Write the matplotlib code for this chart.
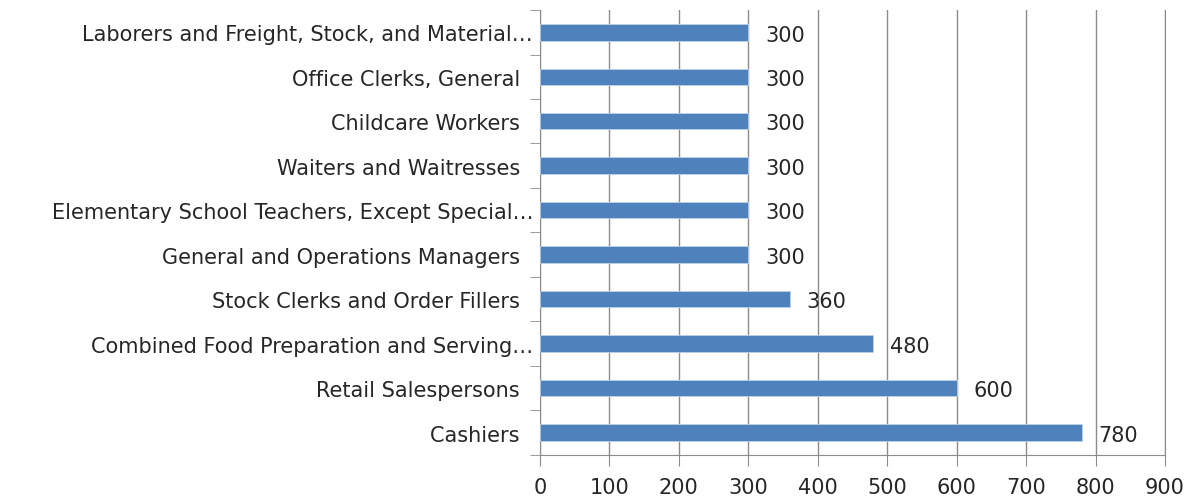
import matplotlib

matplotlib.use("Agg")
import matplotlib.pyplot as plt

# Top to bottom as shown in the chart (Excel keeps a trailing space on
# the labels it did not truncate)
occupations = [
    "Laborers and Freight, Stock, and Material\u2026",
    "Office Clerks, General  ",
    "Childcare Workers  ",
    "Waiters and Waitresses  ",
    "Elementary School Teachers, Except Special\u2026",
    "General and Operations Managers  ",
    "Stock Clerks and Order Fillers  ",
    "Combined Food Preparation and Serving\u2026",
    "Retail Salespersons  ",
    "Cashiers  ",
]
counts = [300, 300, 300, 300, 300, 300, 360, 480, 600, 780]
x_ticks = [0, 100, 200, 300, 400, 500, 600, 700, 800, 900]

BAR = "#4f81bd"
GRID = "#8c8c8c"
TEXT = "#262626"
FS = 15

plt.rcParams["font.family"] = ["DejaVu Sans"]

fig = plt.figure(figsize=(11.93, 5.02), dpi=100)
ax = fig.add_axes([0.4526, 0.092, 0.5239, 0.886])

y_pos = list(range(len(occupations)))
ax.barh(y_pos, counts, height=0.37, color=BAR, edgecolor="#bcd0e8",
        linewidth=0.6, zorder=3)
ax.set_ylim(len(occupations) - 0.5, -0.5)
ax.set_xlim(0, 900)

ax.set_xticks(x_ticks)
ax.set_xticklabels([str(t) for t in x_ticks], fontsize=FS, color=TEXT)
ax.set_yticks(y_pos)
ax.set_yticklabels(occupations, fontsize=FS, color=TEXT)
ax.tick_params(axis="y", length=0, pad=5)
ax.tick_params(axis="x", length=8, color=GRID, pad=8)
# category boundary ticks on the value axis
ax.set_yticks([i - 0.5 for i in range(len(occupations) + 1)], minor=True)
ax.tick_params(axis="y", which="minor", length=7, color=GRID)

ax.grid(axis="x", color=GRID, linewidth=1.0, zorder=0)
ax.set_axisbelow(True)
ax.spines["top"].set_visible(False)
ax.spines["right"].set_color(GRID)
ax.spines["left"].set_color(GRID)
ax.spines["bottom"].set_color(GRID)

for i, v in enumerate(counts):
    ax.text(v + 24, i + 0.05, str(v), va="center", ha="left",
            fontsize=FS, color=TEXT, zorder=4)

fig.savefig("out.png", dpi=100, facecolor="white")
